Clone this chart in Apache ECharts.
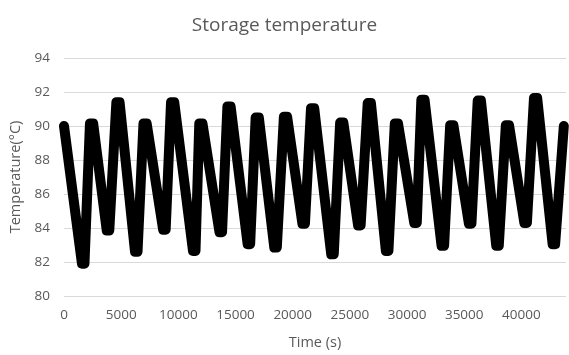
<!DOCTYPE html>
<html>
<head>
<meta charset="utf-8">
<script src="https://cdn.jsdelivr.net/npm/echarts@6/dist/echarts.min.js"></script>
<style>
  html, body { margin: 0; padding: 0; background: #fff; }
  #chart { width: 569px; height: 355px; }
</style>
</head>
<body>
<div id="chart"></div>
<script>
// time (s); peaks and troughs are a little flat, so two points each
const timeSec = [0,
    1570, 1790, 2270, 2550, 3740, 3960, 4580, 4860,
    6210, 6430, 6950, 7230, 8670, 8890, 9360, 9640,
    11280, 11500, 11830, 12110, 13600, 13820, 14290, 14570,
    16060, 16280, 16760, 17040, 18390, 18610, 19230, 19510,
    20850, 21070, 21600, 21880, 23370, 23590, 24150, 24430,
    25720, 25940, 26560, 26840, 28150, 28370, 28930, 29210,
    30630, 30850, 31250, 31530, 33020, 33240, 33770, 34050,
    35410, 35630, 36180, 36460, 37800, 38020, 38640, 38920,
    40260, 40480, 41100, 41380, 42730, 42950,
    43710];
// storage temperature (°C) at those times
const tempC = [90.0,
    81.9, 81.9, 90.15, 90.15, 83.85, 83.85, 91.4, 91.4,
    82.6, 82.6, 90.15, 90.15, 83.9, 83.9, 91.4, 91.4,
    82.65, 82.65, 90.15, 90.15, 83.75, 83.75, 91.15, 91.15,
    83.05, 83.05, 90.5, 90.5, 82.85, 82.85, 90.55, 90.55,
    84.25, 84.25, 91.05, 91.05, 82.45, 82.45, 90.2, 90.2,
    84.15, 84.15, 91.35, 91.35, 82.65, 82.65, 90.15, 90.15,
    84.3, 84.3, 91.55, 91.55, 82.95, 82.95, 90.05, 90.05,
    84.25, 84.25, 91.5, 91.5, 82.95, 82.95, 90.05, 90.05,
    84.3, 84.3, 91.65, 91.65, 83.05, 83.05,
    90.0];
const yTicks = [80, 82, 84, 86, 88, 90, 92, 94];
const xTickStep = 5000;

var chartDom = document.getElementById('chart');
var myChart = echarts.init(chartDom);

const textColor = '#595959';
const font = '"Open Sans", sans-serif';

var option = {
    animation: false,
    title: {
        text: 'Storage temperature',
        left: 'center',
        top: 11,
        textStyle: { color: textColor, fontFamily: font, fontSize: 19, fontWeight: 'normal' }
    },
    grid: { left: 64, right: 0, top: 58, bottom: 57 },
    xAxis: {
        type: 'value',
        min: 0,
        max: 43900,
        interval: xTickStep,
        name: 'Time (s)',
        nameLocation: 'middle',
        nameGap: 39,
        nameTextStyle: { color: textColor, fontFamily: font, fontSize: 14.5 },
        axisLine: { show: false },
        axisTick: { show: false },
        splitLine: { show: false },
        axisLabel: {
            color: textColor, fontFamily: font, fontSize: 13.5, margin: 12,
            formatter: function (v) { return v % xTickStep === 0 ? String(v) : ''; }
        }
    },
    yAxis: {
        type: 'value',
        min: yTicks[0],
        max: yTicks[yTicks.length - 1],
        interval: 2,
        name: 'Temperature(°C)',
        nameLocation: 'middle',
        nameGap: 35,
        nameTextStyle: { color: textColor, fontFamily: font, fontSize: 14.5 },
        axisLine: { show: false },
        axisTick: { show: false },
        axisLabel: { color: textColor, fontFamily: font, fontSize: 13.5, margin: 14 },
        splitLine: { lineStyle: { color: '#d9d9d9', width: 1 } }
    },
    series: [
        {
            type: 'line',
            data: timeSec.map(function (t, i) { return [t, tempC[i]]; }),
            showSymbol: false,
            lineStyle: { color: '#000', width: 10, cap: 'round', join: 'round' }
        }
    ]
};
myChart.setOption(option);
</script>
</body>
</html>
